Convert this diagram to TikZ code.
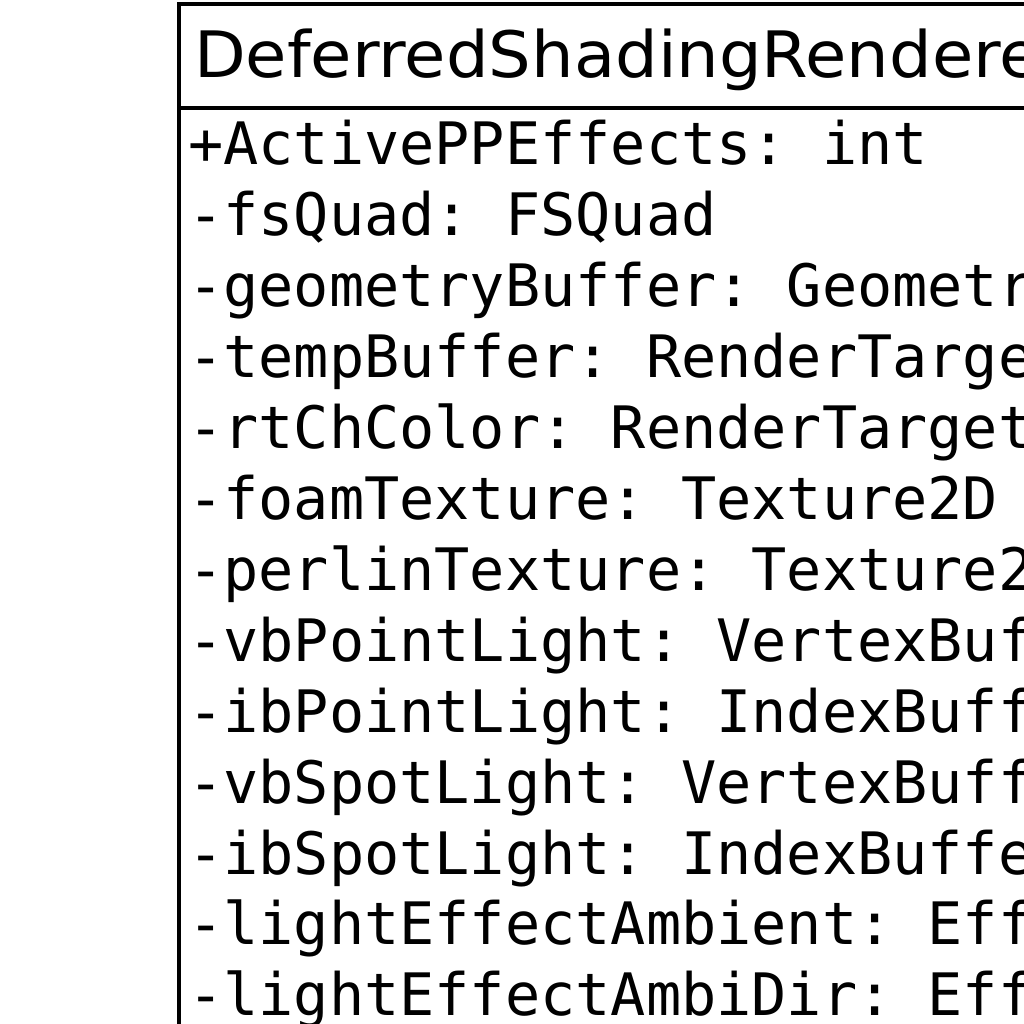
\documentclass[tikz,border=0pt]{standalone}
\usepackage{fontspec}
\setmainfont{DejaVu Sans}
\setmonofont{DejaVu Sans Mono}
\begin{document}
\begin{tikzpicture}[x=1pt,y=-1pt,line cap=rect]
  \tikzstyle{attr}=[anchor=base west,inner sep=0pt,font=\fontsize{58.5}{58.5}\selectfont\ttfamily];
  \useasboundingbox (0,0) rectangle (1024,1024);
  \clip (0,0) rectangle (1024,1024);

  % class box
  \draw [line width=4] (179,1100) -- (179,4) -- (1100,4);
  \draw [line width=4] (179,108) -- (1100,108);
  \node[anchor=base west,inner sep=0pt,xscale=1.05,font=\fontsize{64}{64}\selectfont] (title) at (194,78) {DeferredShadingRenderer};

  % attributes
  \foreach \t [count=\i from 0] in {+ActivePPEffects: int,-fsQuad: FSQuad,-geometryBuffer: GeometryBuffer,-tempBuffer: RenderTarget2D,-rtChColor: RenderTarget2D,-foamTexture: Texture2D,-perlinTexture: Texture2D,-vbPointLight: VertexBuffer,-ibPointLight: IndexBuffer,-vbSpotLight: VertexBuffer,-ibSpotLight: IndexBuffer,-lightEffectAmbient: Effect,-lightEffectAmbiDir: Effect}
    \node[attr] (a\i) at (188,165+70.9*\i) {\t};
\end{tikzpicture}
\end{document}
